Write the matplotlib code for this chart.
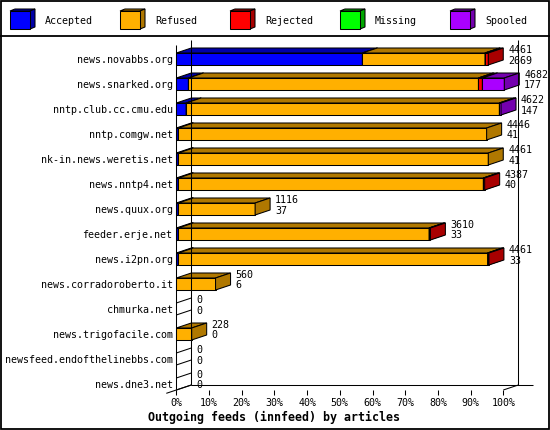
import matplotlib
matplotlib.use("Agg")
import matplotlib.pyplot as plt
from matplotlib.patches import Polygon, Rectangle

plt.rcParams["font.family"] = ["DejaVu Sans Mono"]

# ── datos ───────────────────────────────────────────────────────────────────
hosts = ["news.novabbs.org", "news.snarked.org", "nntp.club.cc.cmu.edu",
         "nntp.comgw.net", "nk-in.news.weretis.net", "news.nntp4.net",
         "news.quux.org", "feeder.erje.net", "news.i2pn.org",
         "news.corradoroberto.it", "chmurka.net", "news.trigofacile.com",
         "newsfeed.endofthelinebbs.com", "news.dne3.net"]
offered    = [4461, 4682, 4622, 4446, 4461, 4387, 1116, 3610, 4461, 560, 0, 228, 0, 0]
accepted_n = [2669, 177, 147, 41, 41, 40, 37, 33, 33, 6, 0, 0, 0, 0]

# largo de cada segmento en % del eje
accepted = [56.9, 3.7, 3.0, 0.6, 0.6, 0.6, 0.6, 0.6, 0.6, 0, 0, 0, 0, 0]
refused  = [37.5, 88.7, 95.8, 94.3, 94.8, 93.3, 23.5, 76.7, 94.6, 12.0, 0, 4.7, 0, 0]
rejected = [1.0, 1.2, 0, 0, 0, 0.4, 0, 0.4, 0.4, 0, 0, 0, 0, 0]
missing  = [0, 0, 0, 0, 0, 0, 0, 0, 0, 0, 0, 0, 0, 0]
spooled  = [0, 6.7, 0.5, 0, 0, 0, 0, 0, 0, 0, 0, 0, 0, 0]

series = ["Accepted", "Refused", "Rejected", "Missing", "Spooled"]
fronts = ["#0000FF", "#FFB000", "#FF0000", "#00FF00", "#AA00FF"]
darks  = ["#0000A8", "#B07800", "#A80000", "#00A800", "#7400AE"]

# ── geometria (pixeles de la imagen 550x430) ────────────────────────────────
W, H_PX = 550, 430
X0_PX, PX_PER_PCT = 176.3, 3.27
FLOOR_PX, TOP_PX = 390, 40
DX = 15 / PX_PER_PCT     # profundidad en x (unidades %)
DY = 5 / 25              # profundidad en y (unidades de fila)
BAR_H = 12 / 25
LW = 0.75
N = len(hosts)

fig = plt.figure(figsize=(W / 100, H_PX / 100), dpi=100)

# fondo: marco + leyenda en coordenadas de pixel
bg = fig.add_axes([0, 0, 1, 1], zorder=0)
bg.set_xlim(0, W)
bg.set_ylim(H_PX, 0)
bg.axis("off")
bg.add_patch(Rectangle((0.7, 0.7), W - 1.4, H_PX - 1.4, fc="white", ec="black", lw=1.3))
bg.plot([0, W], [35.5, 35.5], color="black", lw=1.3, solid_capstyle="butt")
for k, name in enumerate(series):
    lx = 10 + 110 * k
    bg.add_patch(Polygon([(lx, 11), (lx + 5, 9), (lx + 25, 9), (lx + 20, 11)],
                         fc=darks[k], ec="black", lw=LW))
    bg.add_patch(Polygon([(lx + 20, 11), (lx + 25, 9), (lx + 25, 27), (lx + 20, 29)],
                         fc=darks[k], ec="black", lw=LW))
    bg.add_patch(Rectangle((lx, 11), 20, 18, fc=fronts[k], ec="black", lw=LW))
    bg.text(lx + 35, 20.5, name, fontsize=7.2, va="center", ha="left")

# eje principal: x en %, y en filas
left = X0_PX / W
width = 100 * PX_PER_PCT / W
bottom = (H_PX - FLOOR_PX) / H_PX
height = (FLOOR_PX - TOP_PX) / H_PX
ax = fig.add_axes([left, bottom, width, height], zorder=1)
ax.patch.set_visible(False)
ax.set_xlim(0, 100)
ax.set_ylim(0, 14)
for s in ax.spines.values():
    s.set_visible(False)

def line(xs, ys):
    ax.plot(xs, ys, color="black", lw=LW, clip_on=False, solid_capstyle="butt")

# paredes
line([0, 0], [0, 14 - DY])
line([DX, DX], [DY, 14])
line([100 + DX, 100 + DX], [DY, 14])
line([DX, 100 + 2 * DX], [DY, DY])
line([-10 / PX_PER_PCT, DX], [-10 / 15 * DY, DY])
line([100, 100 + DX], [0, DY])

def box(x0, w, y0, fc, dc):
    x1, y1 = x0 + w, y0 + BAR_H
    kw = dict(ec="black", lw=LW, clip_on=False, joinstyle="miter")
    ax.add_patch(Polygon([(x0, y0), (x1, y0), (x1, y1), (x0, y1)], fc=fc, **kw))
    ax.add_patch(Polygon([(x0, y1), (x1, y1), (x1 + DX, y1 + DY), (x0 + DX, y1 + DY)], fc=dc, **kw))
    ax.add_patch(Polygon([(x1, y0), (x1 + DX, y0 + DY), (x1 + DX, y1 + DY), (x1, y1)], fc=dc, **kw))

values = [accepted, refused, rejected, missing, spooled]
for i in range(N):
    y0 = N - 1 - i
    x = 0.0
    drawn = False
    for k in range(len(series)):
        v = values[k][i]
        if v <= 0:
            continue
        box(x, v, y0, fronts[k], darks[k])
        x += v
        drawn = True
    if not drawn:
        # barra vacia: solo las aristas diagonales
        line([0, DX], [y0, y0 + DY])
        line([0, DX], [y0 + BAR_H, y0 + BAR_H + DY])
    tx = x + DX + 5 / PX_PER_PCT
    ax.text(tx, y0 + 0.6, str(offered[i]), fontsize=7.2, va="center", ha="left")
    ax.text(tx, y0 + 0.18, str(accepted_n[i]), fontsize=7.2, va="center", ha="left")

ax.set_xticks(range(0, 101, 10), labels=[f"{t}%" for t in range(0, 101, 10)])
ax.tick_params(axis="x", length=3.6, width=LW, pad=2, labelsize=7.2)
ax.set_yticks([N - 1 - i + BAR_H / 2 for i in range(N)], labels=hosts)
ax.tick_params(axis="y", length=0, pad=2.7, labelsize=7.2)

fig.text(274.5 / W, 1 - 417 / H_PX, "Outgoing feeds (innfeed) by articles",
         fontsize=8.4, fontweight="bold", ha="center", va="center")

fig.savefig("out.png", dpi=100)
